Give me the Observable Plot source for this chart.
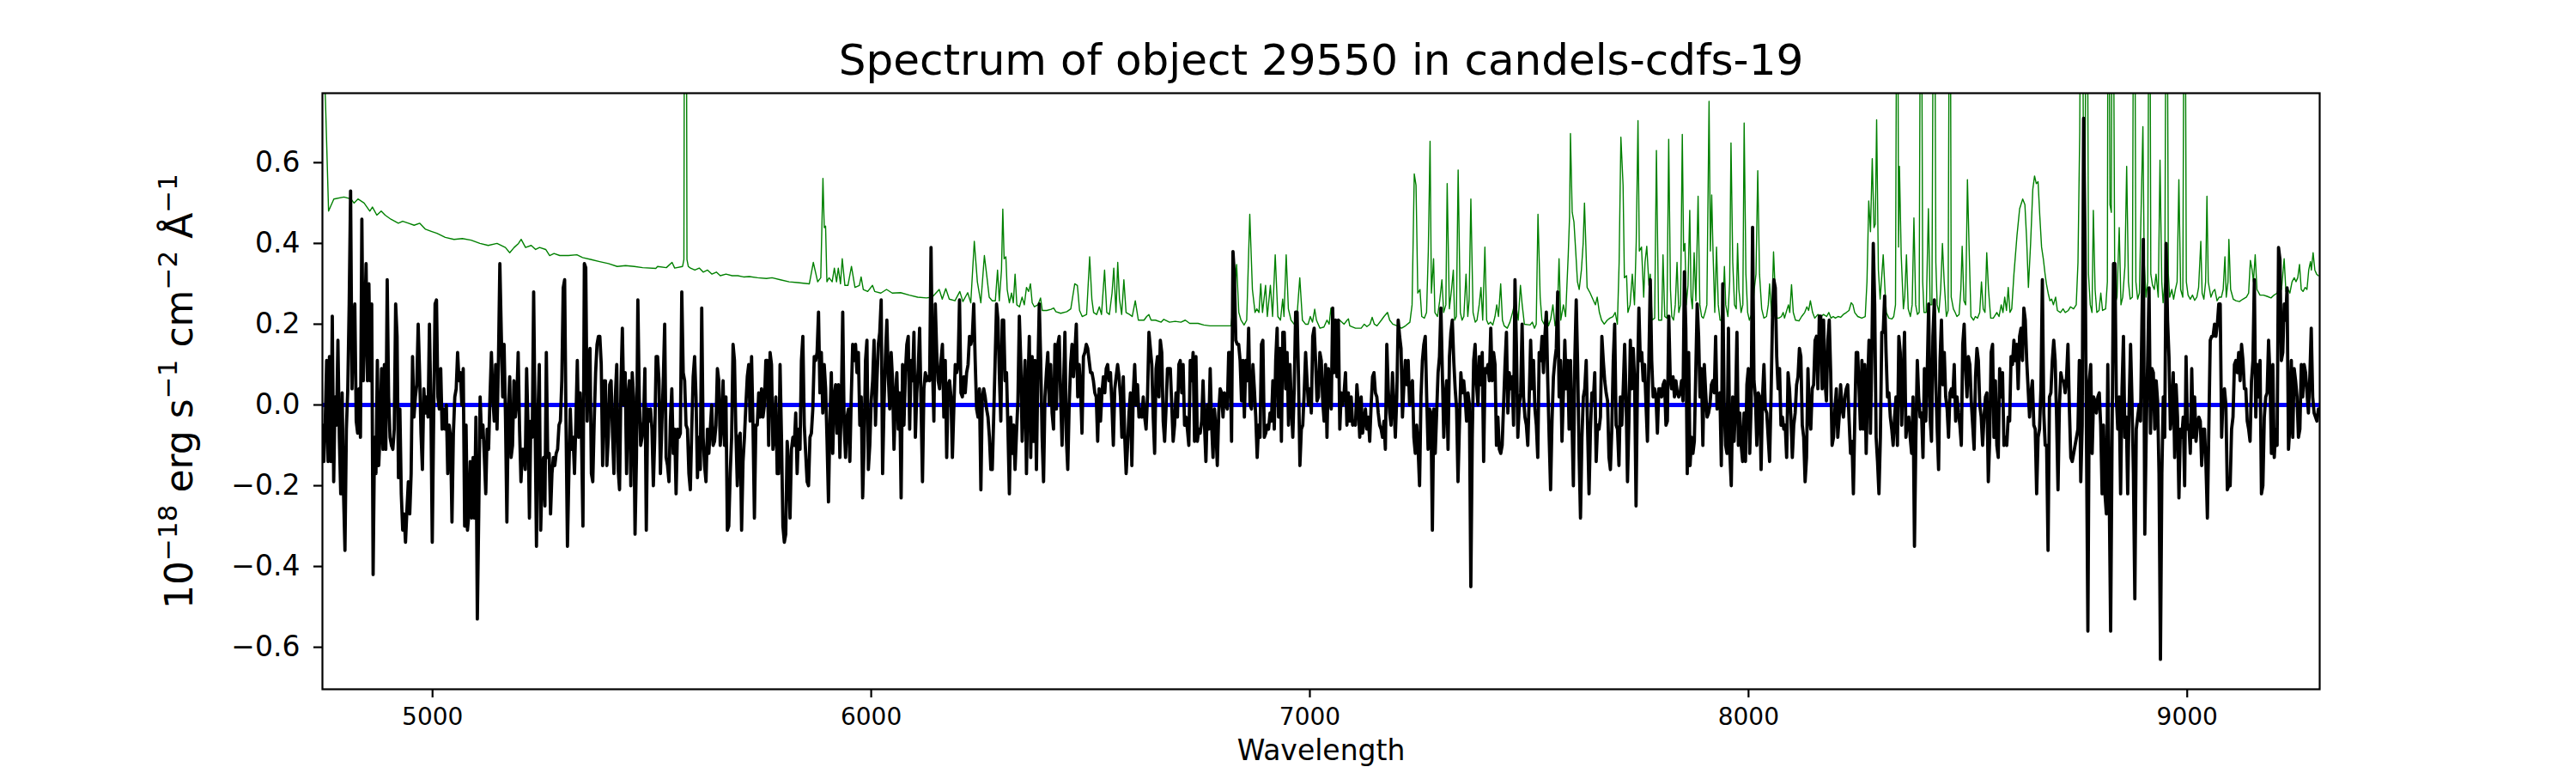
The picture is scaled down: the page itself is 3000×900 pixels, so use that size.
<!DOCTYPE html>
<html>
<head>
<meta charset="utf-8">
<script src="https://cdn.jsdelivr.net/npm/d3@7"></script>
<script src="https://cdn.jsdelivr.net/npm/@observablehq/plot@0.6"></script>
<style>
  html, body { margin: 0; padding: 0; background: white; }
</style>
</head>
<body>
<div id="chart"></div>
<script>
// ---------- DATA ----------
const titleText = "Spectrum of object 29550 in candels-cdfs-19";
const xLabelText = "Wavelength";
// y label pieces: [text, isSuperscript]
const yLabelParts = [["10", false], ["\u221218", true], [" erg s", false], ["\u22121", true], [" cm", false], ["\u22122", true], [" \u00C5", false], ["\u22121", true]];
const yLabelText = yLabelParts.map(p => p[0]).join("");

const xTicks = [5000, 6000, 7000, 8000, 9000];
const yTicks = [-0.6, -0.4, -0.2, 0.0, 0.2, 0.4, 0.6];

// observed flux (black), sampled evenly within each wavelength segment
const segStart = [4749, 5513, 6276, 7039, 7802, 8566];
const segEnd   = [5513, 6276, 7039, 7802, 8566, 9299];

const flux1 = [-0.05,-0.14,-0.04,0.11,-0.14,0.12,-0.14,0.22,-0.19,0.02,-0.05,0.16,-0.08,-0.22,0.03,-0.22,-0.36,-0.06,0.04,0.25,0.53,0.04,0.19,0.25,-0.04,-0.07,0.04,-0.08,0.46,0.06,0.19,0.35,0.06,0.30,0.06,0.25,-0.42,-0.08,-0.17,0.11,-0.15,-0.06,0.09,-0.11,0.10,-0.11,0.31,0.02,-0.08,-0.10,-0.11,-0.06,0.25,0.17,-0.18,-0.01,-0.22,-0.31,-0.27,-0.34,-0.26,-0.19,-0.27,-0.17,0.12,-0.03,0.02,0.05,0.20,0.08,-0.07,-0.16,0.04,-0.02,0.02,-0.03,0.20,0,-0.34,-0.03,0.25,0.26,0.02,-0.01,0.09,-0.06,-0.01,-0.06,0,-0.17,-0.05,-0.08,-0.29,-0.07,0.02,0.04,0.13,0.06,0.08,0,0.09,-0.30,-0.05,-0.31,-0.27,-0.14,-0.28,-0.13,-0.28,-0.03,-0.53,-0.27,0.02,-0.08,-0.05,-0.13,-0.22,-0.06,-0.11,0.02,0.13,0.02,-0.04,0.10,-0.06,0.11,0.35,0.18,0.02,0.15,-0.03,-0.29,-0.02,0.07,-0.13,-0.10,0.06,-0.03,0.01,0.13,-0.06,-0.19,-0.11,-0.11,-0.16,0.09,-0.05,-0.28,-0.04,-0.08,0.28,-0.04,-0.35,-0.03,0.10,-0.31,-0.17,-0.13,-0.25,0.13,-0.13,-0.12,-0.27,-0.17,-0.13,-0.15,-0.12,-0.11,-0.05,-0.04,0.06,0.29,0.31,-0.05,-0.35,-0.17,-0.01,-0.11,-0.08,-0.17,-0.04,0.11,-0.08,0.03,-0.08,-0.30,0.35,0.34,-0.04,0.11,0.14,-0.17,-0.19,-0.04,0.08,0.15,0.17,0.17,0.10,-0.15,0.06,0.06,-0.15,-0.08,0.05,0.06,-0.07,-0.17,0.02,0.10,-0.16,-0.21,0.05,0.19,0,0.08,-0.17,0.02,0.06,-0.20,0.08,0.02,-0.32,-0.13,0.26,0.02,-0.10,-0.08,-0.04,0.09,-0.31,-0.01,-0.04,-0.01,-0.06,-0.20,-0.08,0.12];

const flux2 = [0.12,0.06,-0.17,-0.05,0.06,0.20,-0.13,-0.15,-0.19,-0.04,0.04,-0.12,-0.06,-0.22,-0.06,-0.08,-0.07,0.28,0.08,0.06,-0.05,-0.06,-0.17,-0.21,-0.06,0.07,0.12,0.02,-0.18,-0.08,-0.16,0.24,-0.08,-0.15,-0.19,-0.06,-0.12,-0.06,0,-0.10,-0.09,-0.05,0.09,0.06,-0.10,-0.05,0.06,-0.10,0.02,-0.31,-0.30,-0.17,-0.08,0.15,0.11,-0.07,-0.20,-0.08,-0.07,-0.31,-0.14,-0.08,0,0.07,0.10,-0.04,0.12,-0.05,-0.28,-0.05,-0.05,0.03,-0.03,0.04,-0.03,0,0.11,0.11,-0.10,0.13,0.10,-0.11,-0.08,0.02,-0.17,-0.17,0.10,-0.08,-0.30,-0.34,-0.32,-0.09,-0.15,-0.28,-0.11,-0.08,-0.10,-0.02,-0.17,-0.06,-0.11,0.11,0.17,-0.05,-0.12,-0.19,-0.20,-0.08,-0.07,-0.01,0.12,0.11,0.13,0.23,0.03,0.13,-0.02,0.10,0.04,-0.09,-0.24,-0.04,0.08,-0.12,0.02,0.05,-0.07,0.05,-0.13,0,0.23,-0.05,-0.13,-0.03,-0.01,-0.14,0.02,0.15,0.11,0.15,0.08,0.13,-0.05,0.02,-0.23,-0.10,0.11,0.16,-0.16,-0.10,0.01,0.06,0.16,-0.05,0.06,0.15,0.18,0.26,-0.17,0,0.12,0.21,0.07,-0.01,0.13,0.06,-0.11,0.02,0.08,-0.06,0.03,-0.23,0.10,-0.05,0.08,0.15,0.17,-0.06,0.11,0.06,0.18,-0.08,0.03,0.09,0.19,0,-0.19,0.04,0.08,0.06,0.07,0.06,0.39,0.10,-0.04,0.25,0.13,0.06,0.04,0.11,0.15,-0.03,0.11,-0.13,0.05,0.06,0.02,-0.13,-0.01,0.10,0.08,0.10,0.26,0.03,0.02,0.07,0.03,0.08,0.10,0.17,0.15,0.17,0.25,0.11,-0.01,-0.03,0.04,-0.21,0.02,0.04,0.02,-0.01,-0.03,-0.08,-0.16];

const flux3 = [-0.16,-0.03,0.11,0.25,0.21,0.07,-0.04,0.21,0.21,0.06,0.08,-0.06,-0.22,-0.03,-0.12,-0.05,-0.16,-0.07,0.01,0.22,0.11,-0.09,0.02,0.11,-0.17,0.04,0.17,-0.13,0.12,-0.09,0.11,-0.16,0.08,0.25,0.11,-0.08,-0.19,0.02,0.08,0.13,0,0.10,-0.02,-0.06,0.15,-0.01,0.15,0.17,0.02,-0.10,0.04,0.18,-0.08,-0.16,0,0.10,0.15,0.07,0.13,0.20,0.02,0.10,0.04,-0.07,0.12,0.13,0.15,0.14,0.11,0.08,0.08,0.06,0.03,0.02,-0.09,0.04,-0.04,0.03,0.07,0.03,0.09,0.10,0.06,0.08,0,-0.10,0.04,0.07,0.10,0.07,0.02,-0.08,0.07,-0.08,-0.17,-0.10,-0.02,0.03,-0.15,0.03,0.10,0,0.05,-0.03,-0.01,-0.03,0.02,-0.03,-0.06,0.02,0.18,0.14,0.10,-0.03,-0.12,0.09,0.12,0.02,0.16,0.13,-0.04,-0.09,-0.01,0.09,0.09,0.09,0,-0.09,-0.05,0.03,-0.03,0.10,0.11,0.03,0.10,-0.05,-0.03,-0.06,-0.10,0.11,0.06,0.13,-0.09,0.12,-0.09,-0.06,-0.07,-0.04,0.06,-0.05,-0.14,0,-0.06,0.09,-0.05,-0.13,-0.01,-0.06,-0.15,-0.02,0.04,0.03,-0.03,0.03,0,-0.01,0.13,0.13,-0.09,0.38,0.32,0.16,0.15,0.15,0.11,0.01,0.11,-0.03,0.11,0.06,0.19,0,-0.01,0.10,0.04,-0.03,-0.13,-0.05,-0.08,0.15,0.16,-0.08,-0.07,-0.05,-0.06,-0.02,-0.04,0.06,-0.06,0.11,0.19,-0.03,0.14,-0.09,0.18,0.18,0.04,0.13,-0.05,0.10,0,-0.08,0.04,0.23,0.23,0.07,-0.15,-0.06,-0.05,0.03,0.13,0.06,0,0.04,-0.02,0.17,0.19,0.11,0.01,0.02,0.13,0.11,0.01,-0.04,0.10];

const flux4 = [-0.08,0.09,0.01,-0.01,0.24,0.08,0.21,0.07,0.21,-0.06,0.03,0,0.03,0.08,-0.05,0.03,-0.04,0.02,-0.05,-0.04,-0.05,0.05,0,-0.08,0.02,-0.07,-0.04,-0.01,-0.06,-0.03,-0.09,0,0.07,0.08,0.03,0.02,-0.02,-0.05,-0.06,-0.08,-0.04,-0.11,0.15,0.04,-0.02,-0.05,0.08,0,-0.08,0.02,0.21,0.17,0.14,-0.03,0.05,0.11,0.05,0.11,0,0.05,0.06,-0.08,-0.12,-0.05,-0.11,-0.20,0.02,0.11,0.15,0.17,0.02,-0.11,-0.01,-0.02,-0.31,-0.01,-0.12,-0.02,0.08,0.12,0.24,0.08,-0.08,0.02,0.06,-0.11,0.12,0.18,0.21,0.11,0.04,-0.01,-0.19,-0.05,0.08,0.03,0.06,0.02,-0.04,0.03,0,-0.45,-0.08,0.11,0.15,0.05,0,0.12,0.05,0.13,-0.14,0.09,0.08,0.10,0.06,0.19,0.06,0.13,0.10,-0.10,-0.03,-0.11,-0.12,-0.10,0,0.10,0.18,-0.02,0.08,0.04,0.07,-0.05,0.31,0.15,-0.08,0,0.03,0.20,0.02,-0.03,-0.05,-0.10,0.02,0.16,0.04,0.11,-0.01,-0.05,-0.13,0.13,0.11,0.17,0.08,0.17,0.23,0.06,-0.08,-0.21,-0.04,0.07,0.11,0.14,0.28,0.02,0.11,-0.09,0.03,0.16,0.04,0.11,-0.06,0.11,-0.04,-0.20,0.11,0.26,0.10,-0.12,-0.28,-0.08,0.02,0.04,0.11,-0.06,-0.22,-0.06,0.03,0.01,0.08,-0.14,-0.05,-0.06,-0.03,0.17,0.11,0.06,0.03,0.01,-0.13,-0.16,-0.06,0.11,0.20,-0.05,-0.06,-0.15,0.02,-0.05,0.04,0.15,0.02,-0.19,-0.04,0.16,0.04,0.14,0.06,-0.25,0.06,0.24,0.11,0.13,0.06,0.10,0,-0.09,0.11,0.31,0.11,0.02,0.04,0.02,-0.07,0.04,0.04];

const flux5 = [0.02,0.05,0.06,-0.05,-0.04,0.22,0.07,0.04,0.07,0.02,0.06,0.03,0.02,0.03,0.06,0.01,0.33,0.19,-0.17,0.13,-0.15,-0.08,-0.12,-0.09,0.08,0.25,0.17,0.02,0.09,-0.10,0.10,0.03,-0.03,-0.02,0,0.05,0.06,0.03,0.17,-0.01,0.02,0.03,-0.15,0.30,0,-0.10,-0.12,0.19,-0.12,-0.20,0.02,-0.09,0,0.18,-0.10,-0.02,-0.10,-0.14,-0.02,-0.14,0.05,0.09,-0.12,0,0.44,0.06,0.02,-0.10,0.03,0.02,-0.16,0.02,0.10,-0.01,-0.02,-0.08,-0.14,0.02,0.21,0.31,0.29,0.12,0.04,0.09,-0.05,-0.03,-0.06,-0.05,-0.13,0.08,0.04,-0.03,-0.13,-0.05,-0.02,0.05,0.07,0.14,0.12,-0.05,-0.08,-0.19,-0.13,0.09,-0.03,-0.06,0.04,0.05,0.16,0.17,0.04,0.22,0.22,0.04,0.21,0.06,0.01,0.16,0.21,0.08,-0.10,-0.08,-0.01,0.04,-0.08,-0.03,0.05,-0.01,-0.03,0.02,0.04,0.05,-0.04,-0.12,-0.09,-0.22,-0.03,0.13,0.13,0.04,-0.06,0.11,-0.06,0.10,-0.12,0.05,0.16,-0.07,0.13,0.40,0.25,-0.08,-0.14,-0.22,-0.08,0.18,0.18,0.27,0.13,0.02,0.03,-0.03,-0.06,-0.10,-0.03,0.02,-0.10,0.17,0.13,-0.05,0.07,0.18,-0.08,-0.04,-0.03,-0.08,-0.12,0.02,-0.35,-0.08,0.11,0.02,-0.03,-0.02,-0.13,0.09,-0.04,0.08,0.25,-0.03,-0.09,0.17,0.26,0.06,-0.06,-0.16,0.11,0.21,0.05,0.13,0.02,-0.01,-0.08,0.03,0.04,0.02,0.10,-0.04,0.02,-0.02,-0.05,-0.10,0.15,0.20,0.09,0.02,0.12,0.10,0.01,-0.05,-0.11,0.07,0.14,0.11,0,-0.03,-0.10,-0.03,0.02,0.03,-0.19,-0.08,0.13,0.15,-0.08,0.06];

const flux6 = [-0.10,-0.13,0.09,0.02,0.08,-0.10,-0.08,-0.10,-0.03,-0.04,0.12,0.10,0.16,0.11,0.15,0.04,0.17,0.19,0.11,0.24,0.21,0.11,0.04,-0.03,0.03,0.06,-0.05,-0.06,-0.22,-0.08,-0.06,0.04,0.31,-0.02,-0.10,-0.10,-0.36,0.02,0.03,0.11,0.16,0.11,-0.03,-0.21,0,0.08,0.06,0.06,0.03,0.07,0.15,-0.01,-0.13,-0.14,-0.12,-0.10,-0.08,-0.06,0.11,-0.19,-0.05,0.71,0.40,-0.08,-0.56,0.06,0.10,-0.12,0.02,0.01,-0.02,0.02,0.03,-0.05,-0.22,-0.05,-0.22,-0.27,0.10,-0.22,-0.56,-0.08,0.35,0.35,0.02,-0.06,0.02,-0.22,0.04,0.17,-0.08,-0.03,-0.22,0,0.15,0.01,-0.17,-0.48,-0.06,-0.03,0,-0.04,0.21,0.41,-0.32,-0.07,0.11,0.29,-0.07,0.09,0.08,-0.06,0.06,0.01,-0.17,-0.63,-0.17,0.02,-0.08,0.40,0.21,0.12,-0.06,-0.02,0.08,-0.13,0.05,-0.03,-0.23,-0.06,-0.08,-0.03,-0.20,0.12,-0.06,-0.05,-0.12,0.09,-0.08,0.02,-0.09,-0.05,-0.03,-0.04,-0.15,-0.06,-0.06,-0.15,-0.28,-0.06,0.16,0.17,0.17,0.20,0.17,0.20,0.25,0.25,-0.08,0.02,0.04,0,-0.21,-0.20,-0.20,-0.06,-0.03,0.10,0.11,0.08,0.13,0.06,0.15,0.11,0.04,0.04,-0.04,-0.06,-0.09,0.06,0.11,0.31,-0.03,0.10,0.02,0.11,-0.22,-0.20,-0.03,0.02,0.03,0.16,0.07,-0.12,0.10,-0.13,-0.06,-0.10,0.39,0.36,0.11,0.13,0.25,0.21,0.29,-0.11,-0.05,0.11,-0.08,0.09,0.06,0.02,-0.08,-0.06,0.10,0.02,0.10,0.08,0.03,-0.02,0.07,0.19,0.02,-0.02,-0.03,-0.04,-0.01];

// noise / sky spectrum (green): [wavelength, value]
const sky1 = [[4749,0.95],[4756,0.75],[4763,0.48],[4775,0.51],[4798,0.515],[4814,0.51],[4821,0.50],[4830,0.51],[4844,0.50],[4857,0.48],[4863,0.49],[4873,0.47],[4883,0.48],[4892,0.47],[4905,0.46],[4922,0.45],[4932,0.455],[4945,0.45],[4958,0.445],[4971,0.45],[4984,0.435],[4997,0.43],[5010,0.425],[5029,0.415],[5049,0.41],[5068,0.412],[5088,0.408],[5108,0.40],[5127,0.395],[5147,0.40],[5166,0.39],[5176,0.377],[5186,0.39],[5196,0.40],[5202,0.41],[5212,0.39],[5225,0.395],[5235,0.385],[5244,0.39],[5258,0.385],[5267,0.37],[5277,0.375],[5290,0.37],[5310,0.37],[5329,0.372],[5342,0.365],[5362,0.36],[5381,0.355],[5401,0.35],[5421,0.343],[5440,0.345],[5460,0.343],[5479,0.34],[5509,0.338]];

const sky2 = [[5513,0.343],[5533,0.34],[5546,0.353],[5552,0.339],[5570,0.343],[5573,0.36],[5575,1.5],[5578,1.5],[5580,0.36],[5583,0.343],[5588,0.339],[5598,0.334],[5608,0.339],[5617,0.329],[5627,0.334],[5637,0.324],[5647,0.329],[5656,0.32],[5669,0.324],[5683,0.32],[5696,0.32],[5709,0.317],[5722,0.318],[5741,0.315],[5761,0.313],[5774,0.315],[5793,0.31],[5813,0.305],[5832,0.303],[5859,0.30],[5868,0.353],[5878,0.305],[5885,0.315],[5890,0.561],[5893,0.439],[5896,0.443],[5899,0.305],[5904,0.315],[5911,0.305],[5916,0.339],[5921,0.305],[5925,0.339],[5930,0.30],[5934,0.362],[5940,0.296],[5947,0.296],[5955,0.343],[5963,0.291],[5973,0.296],[5977,0.317],[5982,0.286],[5992,0.281],[6003,0.296],[6008,0.281],[6022,0.277],[6035,0.286],[6048,0.277],[6067,0.278],[6087,0.272],[6106,0.267],[6126,0.265],[6139,0.267],[6155,0.286],[6162,0.262],[6170,0.288],[6178,0.262],[6191,0.258],[6202,0.281],[6209,0.256],[6220,0.278],[6227,0.253],[6235,0.405],[6242,0.305],[6250,0.253],[6258,0.37],[6264,0.315],[6269,0.267]];

const sky3 = [[6276,0.258],[6283,0.258],[6288,0.334],[6292,0.258],[6297,0.334],[6300,0.485],[6303,0.362],[6307,0.367],[6310,0.286],[6315,0.253],[6320,0.277],[6324,0.253],[6328,0.324],[6332,0.248],[6338,0.243],[6344,0.267],[6349,0.248],[6354,0.291],[6359,0.281],[6363,0.30],[6367,0.253],[6372,0.243],[6380,0.248],[6386,0.265],[6390,0.234],[6400,0.234],[6410,0.237],[6416,0.24],[6421,0.231],[6432,0.227],[6446,0.231],[6455,0.238],[6464,0.30],[6470,0.296],[6475,0.234],[6481,0.219],[6491,0.224],[6498,0.367],[6503,0.262],[6507,0.229],[6514,0.224],[6520,0.243],[6525,0.224],[6532,0.334],[6537,0.229],[6543,0.224],[6549,0.277],[6553,0.339],[6558,0.229],[6562,0.353],[6566,0.262],[6571,0.224],[6576,0.31],[6581,0.229],[6589,0.224],[6595,0.219],[6602,0.258],[6609,0.21],[6622,0.21],[6628,0.219],[6633,0.224],[6638,0.21],[6648,0.21],[6661,0.205],[6667,0.212],[6680,0.205],[6693,0.207],[6706,0.205],[6716,0.21],[6726,0.202],[6745,0.202],[6758,0.198],[6772,0.196],[6798,0.196],[6820,0.196],[6827,0.258],[6833,0.348],[6838,0.229],[6843,0.21],[6850,0.198],[6856,0.21],[6863,0.472],[6869,0.286],[6875,0.229],[6879,0.238],[6884,0.229],[6888,0.30],[6892,0.229],[6899,0.296],[6903,0.219],[6910,0.296],[6915,0.219],[6921,0.372],[6927,0.219],[6933,0.21],[6938,0.262],[6941,0.219],[6946,0.372],[6951,0.238],[6957,0.21],[6964,0.20],[6970,0.21],[6977,0.315],[6983,0.21],[6990,0.20],[6996,0.20],[7001,0.219],[7006,0.205],[7011,0.237],[7015,0.21],[7023,0.19],[7032,0.193]];

const sky4 = [[7039,0.21],[7044,0.20],[7048,0.24],[7052,0.21],[7059,0.205],[7068,0.21],[7078,0.20],[7085,0.21],[7088,0.213],[7091,0.196],[7104,0.19],[7117,0.19],[7124,0.20],[7130,0.194],[7137,0.20],[7142,0.217],[7147,0.20],[7153,0.196],[7163,0.21],[7169,0.219],[7177,0.229],[7182,0.21],[7189,0.20],[7199,0.196],[7209,0.19],[7218,0.196],[7228,0.205],[7233,0.248],[7238,0.572],[7242,0.544],[7246,0.277],[7251,0.286],[7255,0.219],[7261,0.215],[7266,0.229],[7270,0.381],[7274,0.653],[7277,0.277],[7282,0.362],[7285,0.229],[7291,0.219],[7296,0.258],[7301,0.31],[7305,0.229],[7310,0.248],[7313,0.548],[7318,0.238],[7323,0.286],[7327,0.334],[7330,0.21],[7334,0.219],[7338,0.582],[7343,0.229],[7347,0.21],[7351,0.219],[7356,0.324],[7360,0.219],[7363,0.258],[7367,0.51],[7372,0.229],[7377,0.205],[7381,0.21],[7386,0.248],[7390,0.291],[7394,0.21],[7399,0.391],[7403,0.21],[7407,0.20],[7412,0.205],[7417,0.198],[7422,0.219],[7426,0.248],[7430,0.219],[7435,0.30],[7439,0.21],[7443,0.196],[7450,0.19],[7456,0.205],[7462,0.229],[7465,0.243],[7469,0.253],[7475,0.21],[7480,0.296],[7484,0.248],[7489,0.20],[7502,0.198],[7507,0.205],[7512,0.19],[7516,0.20],[7520,0.472],[7525,0.267],[7529,0.21],[7534,0.20],[7540,0.229],[7544,0.196],[7549,0.212],[7554,0.248],[7559,0.196],[7564,0.219],[7568,0.362],[7572,0.21],[7578,0.248],[7583,0.219],[7589,0.372],[7592,0.467],[7594,0.672],[7598,0.477],[7602,0.453],[7606,0.381],[7610,0.305],[7614,0.286],[7619,0.334],[7623,0.40],[7626,0.50],[7629,0.40],[7632,0.291],[7639,0.277],[7645,0.262],[7651,0.248],[7655,0.267],[7660,0.229],[7665,0.21],[7671,0.20],[7678,0.21],[7684,0.215],[7691,0.219],[7696,0.229],[7701,0.20],[7705,0.353],[7709,0.663],[7714,0.544],[7717,0.315],[7722,0.32],[7725,0.229],[7730,0.248],[7735,0.324],[7740,0.248],[7744,0.405],[7748,0.704],[7751,0.381],[7756,0.391],[7761,0.267],[7764,0.353],[7768,0.393],[7773,0.296],[7776,0.324],[7780,0.21],[7786,0.215],[7790,0.63],[7795,0.21]];

const sky5 = [[7802,0.21],[7805,0.372],[7809,0.219],[7814,0.215],[7818,0.658],[7822,0.286],[7825,0.219],[7829,0.21],[7833,0.248],[7837,0.353],[7841,0.229],[7845,0.248],[7849,0.67],[7852,0.381],[7855,0.40],[7858,0.248],[7862,0.296],[7866,0.482],[7869,0.267],[7872,0.238],[7876,0.377],[7880,0.258],[7885,0.517],[7889,0.248],[7893,0.219],[7897,0.215],[7901,0.229],[7905,0.248],[7910,0.752],[7913,0.381],[7916,0.52],[7919,0.381],[7923,0.229],[7927,0.391],[7931,0.248],[7935,0.21],[7939,0.21],[7942,0.248],[7945,0.343],[7948,0.248],[7953,0.219],[7957,0.305],[7960,0.649],[7964,0.353],[7968,0.248],[7972,0.238],[7975,0.40],[7978,0.286],[7983,0.229],[7987,0.248],[7990,0.698],[7994,0.324],[7998,0.229],[8002,0.21],[8005,0.219],[8009,0.229],[8013,0.286],[8017,0.324],[8021,0.58],[8025,0.324],[8030,0.238],[8035,0.215],[8041,0.219],[8045,0.248],[8048,0.30],[8053,0.219],[8057,0.379],[8061,0.277],[8065,0.215],[8069,0.215],[8075,0.219],[8079,0.229],[8082,0.215],[8087,0.234],[8091,0.248],[8094,0.229],[8098,0.298],[8102,0.229],[8107,0.21],[8115,0.208],[8121,0.219],[8128,0.229],[8133,0.243],[8137,0.234],[8141,0.258],[8146,0.229],[8151,0.215],[8158,0.224],[8165,0.219],[8171,0.224],[8178,0.219],[8183,0.229],[8188,0.215],[8193,0.219],[8198,0.215],[8204,0.219],[8210,0.217],[8216,0.224],[8223,0.229],[8229,0.234],[8234,0.253],[8238,0.248],[8242,0.229],[8249,0.219],[8258,0.215],[8266,0.219],[8270,0.305],[8274,0.505],[8278,0.429],[8282,0.61],[8286,0.439],[8289,0.448],[8292,0.706],[8296,0.334],[8300,0.262],[8304,0.324],[8307,0.372],[8311,0.286],[8314,0.229],[8320,0.215],[8327,0.213],[8331,0.219],[8335,0.248],[8339,1.5],[8342,0.391],[8344,0.591],[8348,0.372],[8353,0.238],[8356,0.267],[8360,0.372],[8364,0.238],[8369,0.219],[8373,0.248],[8377,0.463],[8381,0.248],[8385,0.224],[8389,0.229],[8393,1.5],[8397,0.305],[8400,0.229],[8405,0.229],[8410,0.486],[8414,0.248],[8418,0.248],[8423,1.5],[8427,0.353],[8430,0.248],[8434,0.229],[8438,0.286],[8442,0.40],[8446,0.305],[8451,0.219],[8455,0.234],[8459,1.5],[8462,0.267],[8467,0.238],[8471,0.229],[8475,0.219],[8480,0.224],[8484,0.286],[8487,0.393],[8491,0.258],[8495,0.248],[8499,0.558],[8503,0.381],[8507,0.219],[8513,0.21],[8517,0.219],[8522,0.215],[8527,0.229],[8531,0.305],[8535,0.238],[8539,0.229],[8543,0.377],[8547,0.286],[8552,0.215],[8558,0.215]];

const sky6 = [[8566,0.229],[8571,0.219],[8576,0.248],[8580,0.229],[8584,0.267],[8588,0.234],[8592,0.291],[8596,0.229],[8600,0.238],[8605,0.324],[8612,0.42],[8618,0.486],[8625,0.51],[8630,0.496],[8634,0.41],[8638,0.291],[8643,0.40],[8648,0.534],[8652,0.567],[8656,0.548],[8660,0.553],[8664,0.467],[8668,0.391],[8672,0.362],[8676,0.324],[8679,0.30],[8683,0.277],[8687,0.258],[8691,0.262],[8695,0.248],[8700,0.267],[8704,0.234],[8711,0.229],[8717,0.238],[8722,0.229],[8729,0.234],[8734,0.243],[8741,0.238],[8747,0.248],[8751,0.353],[8755,0.677],[8759,1.5],[8763,0.715],[8767,0.496],[8771,1.5],[8775,0.324],[8779,0.248],[8783,0.229],[8786,0.482],[8790,0.286],[8794,0.229],[8799,0.234],[8803,0.277],[8807,0.234],[8814,0.238],[8818,0.305],[8820,1.5],[8824,0.496],[8827,0.477],[8830,1.5],[8835,0.248],[8840,0.267],[8845,0.439],[8849,0.248],[8853,0.267],[8858,0.343],[8862,0.591],[8866,0.305],[8870,0.262],[8875,0.267],[8879,1.5],[8883,0.305],[8887,0.262],[8891,0.277],[8895,0.486],[8899,0.689],[8902,0.353],[8906,0.267],[8910,0.305],[8914,1.5],[8917,0.324],[8921,0.296],[8925,0.286],[8929,0.324],[8934,0.267],[8938,0.606],[8942,0.305],[8945,0.253],[8949,0.305],[8953,1.5],[8957,0.324],[8960,0.267],[8965,0.286],[8969,0.262],[8973,0.286],[8977,0.305],[8981,0.558],[8985,0.286],[8990,0.267],[8994,1.5],[8998,0.305],[9002,0.272],[9007,0.262],[9012,0.272],[9017,0.259],[9022,0.267],[9026,0.291],[9031,0.405],[9034,0.277],[9038,0.262],[9042,0.305],[9045,0.517],[9048,0.305],[9054,0.267],[9059,0.281],[9063,0.286],[9068,0.258],[9073,0.267],[9078,0.267],[9082,0.286],[9086,0.367],[9089,0.267],[9093,0.305],[9095,0.41],[9099,0.286],[9105,0.262],[9111,0.258],[9119,0.256],[9127,0.262],[9135,0.267],[9140,0.277],[9144,0.358],[9148,0.334],[9151,0.305],[9155,0.372],[9159,0.286],[9166,0.272],[9174,0.272],[9182,0.269],[9191,0.265],[9198,0.272],[9205,0.277],[9210,0.296],[9215,0.286],[9221,0.362],[9225,0.281],[9230,0.286],[9234,0.277],[9239,0.305],[9244,0.315],[9248,0.305],[9252,0.315],[9256,0.348],[9260,0.286],[9264,0.281],[9269,0.291],[9273,0.286],[9277,0.334],[9281,0.355],[9283,0.334],[9287,0.377],[9291,0.334],[9295,0.324],[9299,0.32]];

// model (blue)
const modelWave = [4749, 9299];
const modelFlux = [0, 0];

// ---------- BUILD TABLES ----------
const fluxSegs = [flux1, flux2, flux3, flux4, flux5, flux6];
const fluxData = [];
fluxSegs.forEach((vals, k) => {
  const a = segStart[k], b = segEnd[k];
  const n = (k === fluxSegs.length - 1) ? vals.length - 1 : vals.length;
  vals.forEach((v, i) => fluxData.push({w: a + i * (b - a) / n, f: v}));
});
const skyData = [...sky1, ...sky2, ...sky3, ...sky4, ...sky5, ...sky6].map(([w, f]) => ({w, f}));
const modelData = modelWave.map((w, i) => ({w, f: modelFlux[i]}));

const font = "DejaVu Sans";
const yLabelSize = 44;

const chart = Plot.plot({
  width: 3000,
  height: 900,
  marginLeft: 375,
  marginRight: 299,
  marginTop: 108,
  marginBottom: 98,
  style: {fontFamily: font, background: "white", color: "black"},
  x: {domain: [4749, 9302], label: null},
  y: {domain: [-0.704, 0.772], label: null},
  marks: [
    Plot.line(skyData, {x: "w", y: "f", stroke: "#008000", strokeWidth: 1.4, clip: true}),
    Plot.line(modelData, {x: "w", y: "f", stroke: "#0000ff", strokeWidth: 5, clip: true}),
    Plot.line(fluxData, {x: "w", y: "f", stroke: "black", strokeWidth: 3.8, clip: true}),
    Plot.frame({stroke: "black", strokeWidth: 2.2}),
    Plot.axisX({ticks: xTicks, tickFormat: d => String(d), tickSize: 10, strokeWidth: 2.2, tickPadding: 12, fontSize: 28, label: null}),
    Plot.axisY({ticks: yTicks, tickFormat: d3.format(".1f"), tickSize: 10, strokeWidth: 2.2, tickPadding: 16, fontSize: 33, label: null}),
    Plot.text([titleText], {frameAnchor: "top", lineAnchor: "bottom", dy: -22, fontSize: 50}),
    Plot.text([xLabelText], {frameAnchor: "bottom", lineAnchor: "bottom", dy: 82, fontSize: 33}),
    Plot.text([yLabelText], {frameAnchor: "left", rotate: -90, textAnchor: "middle", lineAnchor: "bottom", dx: -152, fontSize: yLabelSize})
  ]
});

// render the y label with real superscripts (as in the reference)
d3.select(chart).selectAll("text").filter(function() { return this.textContent === yLabelText; }).each(function() {
  const t = d3.select(this);
  t.text(null);
  const sup = Math.round(yLabelSize * 0.7);
  const shift = Math.round(yLabelSize * 0.4);
  let raised = false;
  yLabelParts.forEach(([s, isSup]) => {
    const span = t.append("tspan").text(s);
    if (isSup && !raised) { span.attr("dy", -shift).attr("font-size", sup); raised = true; }
    else if (isSup) { span.attr("font-size", sup); }
    else if (raised) { span.attr("dy", shift); raised = false; }
  });
});

document.getElementById("chart").appendChild(chart);
</script>
</body>
</html>
